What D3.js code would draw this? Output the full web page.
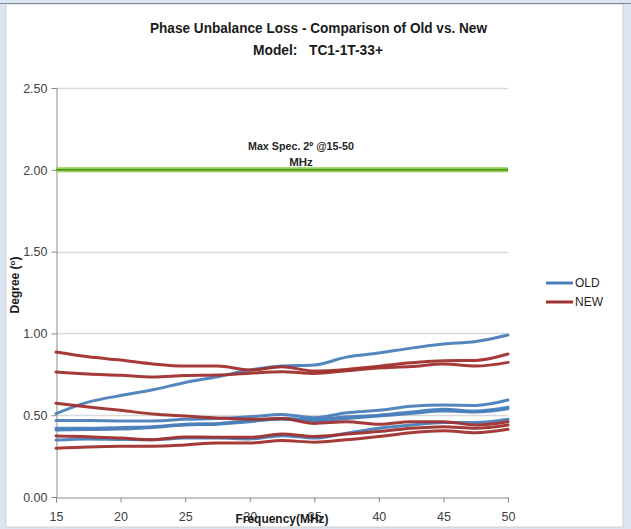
<!DOCTYPE html>
<html><head><meta charset="utf-8">
<script src="https://cdn.jsdelivr.net/npm/d3@7"></script>
<style>
body{margin:0;background:#dce6f2;}
svg{display:block;}
text{font-family:"Liberation Sans Narrow","Liberation Sans",Arial,sans-serif;}
</style></head>
<body>
<svg id="c" width="631" height="529"></svg>
<script>
const freqs = [15,17.5,20,22.5,25,27.5,30,32.5,35,37.5,40,42.5,45,47.5,50];
const old1 = [0.51,0.58,0.62,0.655,0.70,0.735,0.776,0.80,0.807,0.855,0.88,0.91,0.935,0.95,0.99];
const old2 = [0.467,0.467,0.465,0.465,0.475,0.48,0.49,0.505,0.485,0.515,0.53,0.555,0.562,0.56,0.593];
const old3 = [0.41,0.412,0.415,0.425,0.44,0.445,0.46,0.48,0.475,0.49,0.50,0.52,0.537,0.525,0.548];
const old4 = [0.348,0.355,0.352,0.35,0.36,0.36,0.355,0.375,0.36,0.39,0.42,0.44,0.455,0.455,0.475];
const old5 = [0.42,0.42,0.425,0.43,0.445,0.45,0.465,0.475,0.465,0.48,0.495,0.51,0.525,0.52,0.54];
const new1 = [0.886,0.857,0.837,0.813,0.80,0.80,0.776,0.796,0.77,0.78,0.80,0.82,0.833,0.835,0.874];
const new2 = [0.764,0.752,0.744,0.733,0.742,0.745,0.757,0.766,0.755,0.772,0.788,0.797,0.813,0.80,0.823];
const new3 = [0.573,0.55,0.53,0.507,0.495,0.483,0.475,0.48,0.45,0.46,0.445,0.46,0.46,0.44,0.46];
const new4 = [0.373,0.369,0.36,0.35,0.367,0.365,0.365,0.385,0.37,0.385,0.40,0.42,0.43,0.42,0.44];
const new5 = [0.298,0.306,0.31,0.31,0.318,0.33,0.33,0.345,0.335,0.35,0.37,0.393,0.405,0.393,0.414];
const oldSeries = [old1,old2,old3,old4,old5];
const newSeries = [new1,new2,new3,new4,new5];
const yTicks = [0,0.5,1.0,1.5,2.0,2.5];
const xTicks = [15,20,25,30,35,40,45,50];
const specValue = 2.0;
const legendLabels = ["OLD","NEW"];
const colors = {OLD:"#4a7ebb", NEW:"#a0302d"};

const svg = d3.select("#c");
// chart area
svg.append("rect").attr("x",6).attr("y",4).attr("width",617).attr("height",523)
  .attr("fill","#ffffff").attr("stroke","#d0d0d0");
svg.append("line").attr("x1",0).attr("x2",631).attr("y1",3.5).attr("y2",3.5).attr("stroke","#7f8a99").attr("stroke-width",1);

const x = d3.scaleLinear().domain([15,50]).range([56,508]);
const y = d3.scaleLinear().domain([0,2.5]).range([497,88]);

// gridlines
svg.append("g").selectAll("line").data(yTicks.filter(d=>d>0)).join("line")
  .attr("x1",56).attr("x2",508).attr("y1",d=>Math.round(y(d))+0.5).attr("y2",d=>Math.round(y(d))+0.5)
  .attr("stroke","#d9d9d9").attr("stroke-width",1.5);

// axes
const yAxis = svg.append("g").attr("transform","translate(56.5,0)")
  .call(d3.axisLeft(y).tickValues(yTicks).tickFormat(d3.format(".2f")).tickSize(5).tickPadding(4));
const xAxis = svg.append("g").attr("transform","translate(0,497.5)")
  .call(d3.axisBottom(x).tickValues(xTicks).tickFormat(d3.format("d")).tickSize(5).tickPadding(10));
[yAxis,xAxis].forEach(a=>{
  a.select(".domain").attr("stroke","#8c8c8c");
  a.selectAll(".tick line").attr("stroke","#8c8c8c");
  a.selectAll(".tick text").attr("fill","#404040").style("font-size","12.5px")
   .style("font-family","'Liberation Sans Narrow','Liberation Sans',Arial,sans-serif");
});
yAxis.selectAll(".tick text").attr("dy","0.35em");

// spec line
svg.append("line").attr("x1",56).attr("x2",508).attr("y1",y(specValue)).attr("y2",y(specValue))
  .attr("stroke","#92d050").attr("stroke-width",5);
svg.append("line").attr("x1",56).attr("x2",508).attr("y1",y(specValue)).attr("y2",y(specValue))
  .attr("stroke","#4f8f1c").attr("stroke-width",1.6);

// series
const line = d3.line().x((d,i)=>x(freqs[i])).y(d=>y(d)).curve(d3.curveMonotoneX);
const g = svg.append("g");
oldSeries.forEach(s=>{
  g.append("path").attr("d",line(s)).attr("fill","none").attr("stroke",colors.OLD)
   .attr("stroke-width",3).attr("stroke-opacity",0.95).attr("stroke-linecap","round");
});
newSeries.forEach(s=>{
  g.append("path").attr("d",line(s)).attr("fill","none").attr("stroke",colors.NEW)
   .attr("stroke-width",3).attr("stroke-opacity",0.95).attr("stroke-linecap","round");
});

// spec annotation
svg.append("text").attr("x",301).attr("y",150).attr("text-anchor","middle")
  .attr("font-size","11.5px").attr("font-weight","bold").attr("fill","#262626")
  .attr("textLength",106).attr("lengthAdjust","spacingAndGlyphs")
  .text("Max Spec. 2\u00BA @15-50");
svg.append("text").attr("x",301).attr("y",166).attr("text-anchor","middle")
  .attr("font-size","11.5px").attr("font-weight","bold").attr("fill","#262626")
  .text("MHz");

// titles
svg.append("text").attr("x",318.5).attr("y",33).attr("text-anchor","middle")
  .attr("font-size","14.5px").attr("font-weight","bold").attr("fill","#1a1a1a")
  .attr("textLength",337).attr("lengthAdjust","spacingAndGlyphs")
  .text("Phase Unbalance Loss - Comparison of Old vs. New");
svg.append("text").attr("x",318).attr("y",55).attr("text-anchor","middle")
  .attr("font-size","14.5px").attr("font-weight","bold").attr("fill","#1a1a1a")
  .attr("textLength",130).attr("lengthAdjust","spacingAndGlyphs")
  .attr("xml:space","preserve")
  .text("Model:   TC1-1T-33+");

// axis titles
svg.append("text").attr("x",282).attr("y",523).attr("text-anchor","middle")
  .attr("font-size","12.5px").attr("font-weight","bold").attr("fill","#1a1a1a")
  .attr("textLength",93).attr("lengthAdjust","spacingAndGlyphs")
  .text("Frequency(MHz)");
const yl = svg.append("text").attr("transform","translate(19,285) rotate(-90)")
  .attr("text-anchor","middle").attr("font-size","12px").attr("font-weight","bold").attr("fill","#1a1a1a");
yl.append("tspan").text("Degree (");
yl.append("tspan").attr("dy","-4").attr("font-size","8px").text("o");
yl.append("tspan").attr("dy","4").text(")");

// legend
const lg = svg.append("g");
legendLabels.forEach((lab,i)=>{
  const yy = 283 + i*19;
  lg.append("line").attr("x1",546).attr("x2",573).attr("y1",yy).attr("y2",yy)
    .attr("stroke",colors[lab]).attr("stroke-width",3);
  lg.append("text").attr("x",575).attr("y",yy).attr("dy","0.35em")
    .attr("font-size","12px").attr("fill","#262626").text(lab);
});
</script>
</body></html>
